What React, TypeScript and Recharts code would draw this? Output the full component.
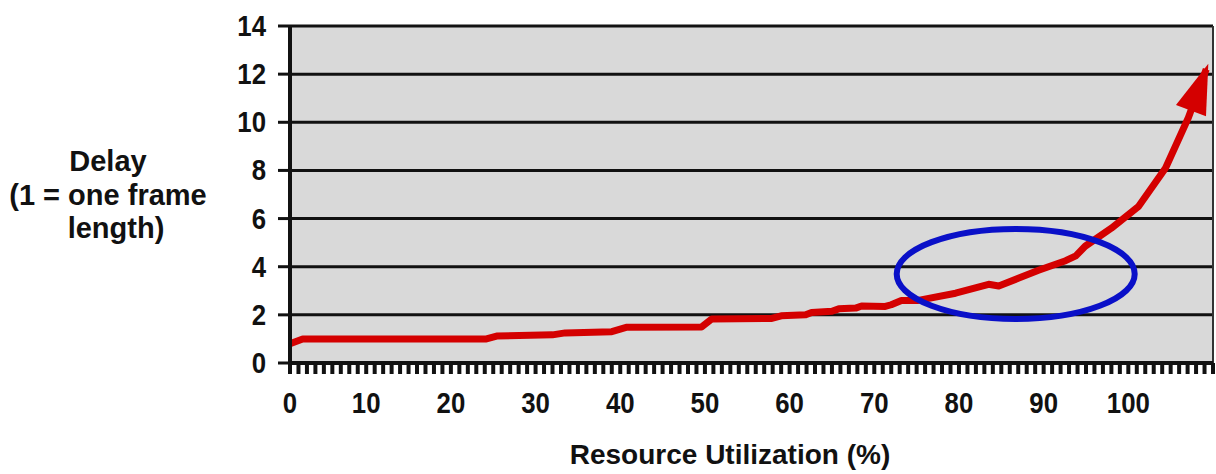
import { LineChart, Line, XAxis, YAxis, CartesianGrid, ReferenceDot, ReferenceLine } from 'recharts';

// utilization (%) along the x axis, delay (frame lengths) up the y axis
const utilization = [
  1, 2.5, 24.2, 25.4, 32, 33.5, 39, 40.7, 49.6, 50.8,
  57.9, 59, 61.9, 62.6, 65, 65.8, 67.8, 68.5, 71.3, 72,
  73.2, 75.2, 79.6, 83.5, 84.7, 87, 89.4, 92.6, 93.8, 94.9,
  98, 101.2, 104.4, 107.1, 109.2,
];
const delay = [
  0.8, 1.0, 1.0, 1.12, 1.17, 1.25, 1.3, 1.48, 1.5, 1.83,
  1.85, 1.96, 2.0, 2.1, 2.15, 2.25, 2.28, 2.37, 2.35, 2.42,
  2.6, 2.6, 2.9, 3.27, 3.2, 3.52, 3.85, 4.25, 4.45, 4.85,
  5.6, 6.5, 8.1, 10.2, 12.2,
];

const yTicks = [0, 2, 4, 6, 8, 10, 12, 14];
const xLabelAt = [1, 10, 20, 30, 40, 50, 60, 70, 80, 90, 100];
const xLabels = ['0', '10', '20', '30', '40', '50', '60', '70', '80', '90', '100'];
const minorTicks = Array.from({ length: 110 }, (_, i) => i + 1);

// highlighted region (center in data units)
const focusCenter = [86.7, 3.7];

const data = utilization.map((u, i) => ({ u, d: delay[i] }));

const FONT = '"Liberation Sans", Arial, Helvetica, sans-serif';
const RED = '#d40000';

// tick digits in the original are a condensed bold face
function XTick({ x, y, payload }: any) {
  const i = xLabelAt.indexOf(payload.value);
  if (i < 0) return <g />;
  return (
    <text
      transform={`translate(${x},${y + 21}) scale(0.86,1)`}
      textAnchor="middle"
      fontFamily={FONT}
      fontWeight="bold"
      fontSize={30}
      fill="#111"
    >
      {xLabels[i]}
    </text>
  );
}

function YTick({ x, y, payload }: any) {
  return (
    <text
      transform={`translate(${x},${y + 10}) scale(0.86,1)`}
      textAnchor="end"
      fontFamily={FONT}
      fontWeight="bold"
      fontSize={30}
      fill="#111"
    >
      {payload.value}
    </text>
  );
}

function ArrowDot(props: any) {
  const { cx, cy, index, points } = props;
  if (index !== delay.length - 1) return <g key={`d-${index}`} />;
  const prev = points?.[index - 1] ?? { x: cx - 20, y: cy + 52 };
  const dx = cx - prev.x;
  const dy = cy - prev.y;
  const len = Math.hypot(dx, dy) || 1;
  const ux = dx / len;
  const uy = dy / len;
  const tx = cx + ux * 6;
  const ty = cy + uy * 6;
  const bx = tx - ux * 50;
  const by = ty - uy * 50;
  const w = 16;
  const pts = `${tx},${ty} ${bx - uy * w},${by + ux * w} ${bx + uy * w},${by - ux * w}`;
  return <polygon key={`d-${index}`} points={pts} fill={RED} />;
}

function FocusEllipse({ cx, cy }: any) {
  return <ellipse cx={cx} cy={cy} rx={119} ry={45} fill="none" stroke="#0a10c8" strokeWidth={6} />;
}

function YTitle() {
  return (
    <text fontFamily={FONT} fontWeight="bold" fontSize={29} fill="#111" textAnchor="middle">
      <tspan x={108} y={171}>Delay</tspan>
      <tspan x={108} y={205}>(1 = one frame</tspan>
      <tspan x={116} y={238}>length)</tspan>
    </text>
  );
}

function XTitle() {
  return (
    <text x={730} y={464} fontFamily={FONT} fontWeight="bold" fontSize={28} fill="#111" textAnchor="middle">
      Resource Utilization (%)
    </text>
  );
}

export default function App() {
  return (
    <div style={{ position: 'absolute', left: 0, top: 0, width: 1216, height: 474, background: '#fff' }}>
      <LineChart width={1216} height={474} data={data} margin={{ top: 26, right: 3, left: 0, bottom: 0 }}>
        <CartesianGrid vertical={false} fill="#d9d9d9" fillOpacity={1} stroke="#111" strokeWidth={3} />
        <XAxis
          type="number"
          dataKey="u"
          domain={[1, 110]}
          ticks={minorTicks}
          interval={0}
          height={111}
          tickSize={11}
          tickMargin={18}
          tick={<XTick />}
          axisLine={{ stroke: '#111', strokeWidth: 4 }}
          tickLine={{ stroke: '#111', strokeWidth: 4 }}
          label={{ content: () => <XTitle /> }}
        />
        <YAxis
          type="number"
          domain={[0, 14]}
          ticks={yTicks}
          interval={0}
          width={290}
          tickSize={12}
          tickMargin={12}
          tick={<YTick />}
          axisLine={{ stroke: '#111', strokeWidth: 4 }}
          tickLine={{ stroke: '#111', strokeWidth: 3 }}
          label={{ content: () => <YTitle /> }}
        />
        <ReferenceLine x={110} stroke="#333" strokeWidth={2} />
        <ReferenceDot x={focusCenter[0]} y={focusCenter[1]} shape={<FocusEllipse />} />
        <Line
          type="linear"
          dataKey="d"
          stroke={RED}
          strokeWidth={7}
          strokeLinejoin="round"
          dot={ArrowDot}
          activeDot={false}
          isAnimationActive={false}
        />
      </LineChart>
    </div>
  );
}
